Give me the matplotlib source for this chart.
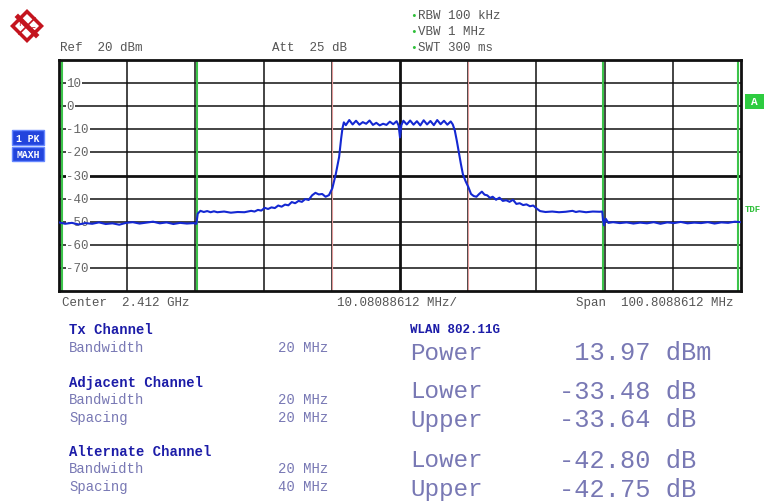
import matplotlib
matplotlib.use("Agg")
import matplotlib.pyplot as plt
from matplotlib.patches import Polygon, Rectangle

W, H = 764, 502
MONO = ["Liberation Mono", "DejaVu Sans Mono"]

# spectrum trace, offset from centre in MHz / level in dBm
freq_mhz = [
    -50.4, -49.5, -48.5, -47.5, -46.5, -45.5, -44.5, -43.5, -42.5, -41.5, -40.5,
    -39.5, -38.5, -37.5, -36.5, -35.5, -34.5, -33.5, -32.5, -31.5, -30.5, -30.1,
    -29.9, -29.5, -29.0, -28.5, -28.0, -27.5, -27.0, -26.0, -25.0, -24.0, -23.0,
    -22.0, -21.5, -21.0, -20.5, -20.0, -19.5, -19.0, -18.5, -18.0, -17.5, -17.0,
    -16.5, -16.0, -15.5, -15.0, -14.5, -14.0, -13.5, -13.0, -12.5, -12.0, -11.5,
    -11.0, -10.5, -10.0, -9.5, -9.0, -8.7, -8.5, -8.3,
    -8.0, -7.5, -7.0, -6.5, -6.0, -5.5, -5.0, -4.5, -4.0, -3.5, -3.0, -2.5, -2.0,
    -1.5, -1.0, -0.5, -0.2, 0.0, 0.2, 0.5, 1.0, 1.5, 2.0, 2.5, 3.0, 3.5, 4.0, 4.5,
    5.0, 5.5, 6.0, 6.5, 7.0, 7.5, 7.8,
    8.1, 8.4, 8.7, 9.0, 9.3, 9.7, 10.1, 10.5, 10.9, 11.3, 11.7, 12.1, 12.5, 12.9,
    13.3, 13.7, 14.2, 14.7, 15.2, 15.7, 16.2, 16.7, 17.2, 17.7, 18.2, 18.7, 19.2,
    19.7, 20.2, 20.7, 21.5, 22.5, 23.5, 24.5, 25.5, 26.0, 26.5, 27.5, 28.5, 29.5,
    29.9, 30.0, 30.15, 30.4, 30.8, 31.5, 32.5, 33.5, 34.5, 35.5, 36.5, 37.5, 38.5,
    39.5, 40.5, 41.5, 42.5, 43.5, 44.5, 45.5, 46.5, 47.5, 48.5, 49.5, 50.4,
]
level_dbm = [
    -50.3, -50.9, -50.5, -51.2, -50.6, -50.9, -50.3, -51.0, -50.7, -51.3, -50.5,
    -50.2, -50.8, -50.4, -50.0, -50.7, -50.3, -51.0, -50.5, -50.8, -50.6, -50.9,
    -46.5, -45.3, -45.8, -45.4, -45.9, -45.5, -45.9, -45.6, -46.1, -45.8, -45.9,
    -45.3, -45.6, -44.9, -45.2, -44.0, -44.5, -43.8, -44.1, -43.0, -43.5, -42.6,
    -42.9, -41.5, -42.0, -41.0, -41.4, -40.2, -40.6, -38.6, -37.5, -38.2, -38.0,
    -39.2, -38.5, -35.5, -29.5, -22.0, -14.0, -9.5, -7.0,
    -8.2, -6.0, -7.9, -6.3, -8.0, -6.9, -7.6, -6.2, -8.1, -7.2, -8.3, -7.6, -8.1,
    -6.7, -7.8, -6.5, -8.4, -13.5, -8.2, -6.3, -7.9, -6.2, -8.0, -6.5, -8.3, -6.1,
    -7.9, -6.4, -8.2, -6.0, -7.8, -6.3, -8.0, -6.6, -7.9,
    -10.5, -15.0, -20.0, -25.0, -29.5, -32.5, -35.0, -38.0, -38.9, -39.2, -38.0,
    -37.0, -38.3, -38.6, -39.7, -39.2, -40.5, -39.6, -41.0, -40.7, -41.4, -40.5,
    -42.3, -42.0, -42.8, -42.5, -43.3, -43.0, -44.3, -45.4, -45.8, -45.6, -45.9,
    -45.7, -45.3, -45.8, -45.5, -45.9, -45.6, -45.7, -45.6, -49.0, -51.6, -48.7,
    -50.5, -50.2, -50.6, -50.3, -50.8, -50.4, -50.7, -50.2, -50.9, -50.3, -50.6,
    -50.1, -50.7, -50.4, -50.6, -50.2, -50.8, -50.3, -50.5, -50.0, -50.2,
]

span_mhz = 100.8088612
ref_dbm = 20
y_ticks = [10, 0, -10, -20, -30, -40, -50, -60, -70]
tx_edges = [-10, 10]                 # red limit lines
adj_alt_edges = [-50, -30, 30, 50]   # green limit lines

setup_lines = ["RBW 100 kHz", "VBW 1 MHz", "SWT 300 ms"]
left_rows = [
    ("Tx Channel", None, True), ("Bandwidth", "20 MHz", False),
    ("Adjacent Channel", None, True), ("Bandwidth", "20 MHz", False),
    ("Spacing", "20 MHz", False),
    ("Alternate Channel", None, True), ("Bandwidth", "20 MHz", False),
    ("Spacing", "40 MHz", False),
]
left_rows_y = [330, 348, 383, 400, 418, 452, 469, 487]
result_names = ["Power", "Lower", "Upper", "Lower", "Upper"]
result_values = [" 13.97 dBm", "-33.48 dB", "-33.64 dB", "-42.80 dB", "-42.75 dB"]
result_y = [353, 392, 420, 461, 490]


def fx(px):
    return px / W


def fy(py):
    return 1 - py / H


fig = plt.figure(figsize=(W / 100, H / 100), dpi=100)
ax = fig.add_axes([fx(59), fy(292), (741 - 59) / W, (292 - 61) / H])
half = span_mhz / 2
ax.set_xlim(-half, half)
ax.set_ylim(ref_dbm - 100, ref_dbm)

# graticule
div = span_mhz / 10
for k in range(1, 10):
    ax.axvline(-half + k * div, color="#111111", lw=2.0 if k == 5 else 1.1, zorder=1)
for k in range(1, 10):
    yv = ref_dbm - 10 * k
    ax.axhline(yv, color="#111111", lw=2.0 if k == 5 else 1.1, zorder=1)
for e in tx_edges:
    ax.axvline(e, color="#e39a9a", lw=0.8, zorder=2)
for e in adj_alt_edges:
    ax.axvline(e, color="#3cc34a", lw=1.5, zorder=2)

for t in y_ticks:
    ax.text(-half + 1.1, t, str(t), ha="left", va="center", fontsize=9,
            family=MONO, color="#666666", zorder=3,
            bbox=dict(facecolor="white", edgecolor="none", pad=0.6))

ax.plot(freq_mhz, level_dbm, color="#1428d2", lw=1.5, zorder=4)

ax.set_xticks([])
ax.set_yticks([])
for s in ax.spines.values():
    s.set_linewidth(2.0)
    s.set_color("#111111")

# header texts
gray = "#555555"
fig.text(fx(60), fy(48), "Ref  20 dBm", fontsize=9, family=MONO, color=gray, va="center")
fig.text(fx(272), fy(48), "Att  25 dB", fontsize=9, family=MONO, color=gray, va="center")
for i, s in enumerate(setup_lines):
    yy = 16 + 16 * i
    fig.text(fx(410), fy(yy), "•", fontsize=8, family=MONO, color="#2fbf3a", va="center")
    fig.text(fx(418), fy(yy), s, fontsize=9, family=MONO, color=gray, va="center")

# R&S logo
cx, cy, r = 27, 27, 17
outer = [(fx(cx), fy(cy - r)), (fx(cx + r), fy(cy)), (fx(cx), fy(cy + r)), (fx(cx - r), fy(cy))]
ri = r - 5
inner = [(fx(cx), fy(cy - ri)), (fx(cx + ri), fy(cy)), (fx(cx), fy(cy + ri)), (fx(cx - ri), fy(cy))]
red = "#c4141e"
fig.add_artist(Polygon(outer, closed=True, transform=fig.transFigure, facecolor=red, edgecolor="none"))
fig.add_artist(Polygon(inner, closed=True, transform=fig.transFigure, facecolor="white", edgecolor="none"))
fig.add_artist(plt.Line2D([fx(cx - 9), fx(cx + 9)], [fy(cy - 9), fy(cy + 9)],
                          transform=fig.transFigure, color=red, lw=3.5))
fig.add_artist(plt.Line2D([fx(cx - 8), fx(cx + 8)], [fy(cy + 8), fy(cy - 8)],
                          transform=fig.transFigure, color=red, lw=1.2))
fig.text(fx(cx - 6), fy(cy - 4), "R", fontsize=6, color=red, ha="center", va="center")
fig.text(fx(cx + 6), fy(cy + 5), "S", fontsize=6, color=red, ha="center", va="center")

# side indicators
for (y0, y1, lab) in [(131, 146, "1 PK"), (148, 162, "MAXH")]:
    fig.add_artist(Rectangle((fx(12), fy(y1)), (44 - 12) / W, (y1 - y0) / H,
                             transform=fig.transFigure, facecolor="#2244dd", edgecolor="#6688ff"))
    fig.text(fx(28), fy((y0 + y1) / 2), lab, fontsize=7, family=MONO, weight="bold",
             color="white", ha="center", va="center")
fig.add_artist(Rectangle((fx(745), fy(110)), 19 / W, 15 / H, transform=fig.transFigure,
                         facecolor="#2ecc40", edgecolor="none"))
fig.text(fx(754), fy(102), "A", fontsize=8, family=MONO, weight="bold", color="white",
         ha="center", va="center")
fig.text(fx(745), fy(210), "TDF", fontsize=6.5, family=MONO, weight="bold", color="#2fbf3a",
         va="center")

# footer of the diagram
fig.text(fx(62), fy(303), "Center  2.412 GHz", fontsize=9, family=MONO, color=gray, va="center")
fig.text(fx(397), fy(303), "10.08088612 MHz/", fontsize=9, family=MONO, color=gray,
         ha="center", va="center")
fig.text(fx(734), fy(303), "Span  100.8088612 MHz", fontsize=9, family=MONO, color=gray,
         ha="right", va="center")

# channel table
dark_blue = "#1c1ca8"
light_blue = "#7878b4"
for (name, val, bold), yy in zip(left_rows, left_rows_y):
    fig.text(fx(69), fy(yy), name, fontsize=10, family=MONO, va="center",
             weight="bold" if bold else "normal", color=dark_blue if bold else light_blue)
    if val:
        fig.text(fx(278), fy(yy), val, fontsize=10, family=MONO, va="center", color=light_blue)

fig.text(fx(410), fy(330), "WLAN 802.11G", fontsize=9, family=MONO, weight="bold",
         color=dark_blue, va="center")
for name, val, yy in zip(result_names, result_values, result_y):
    fig.text(fx(410), fy(yy), name, fontsize=17.5, family=MONO, color=light_blue, va="center")
    fig.text(fx(559), fy(yy), val, fontsize=18.3, family=MONO, color=light_blue,
             ha="left", va="center")

fig.savefig("out.png", dpi=100)
